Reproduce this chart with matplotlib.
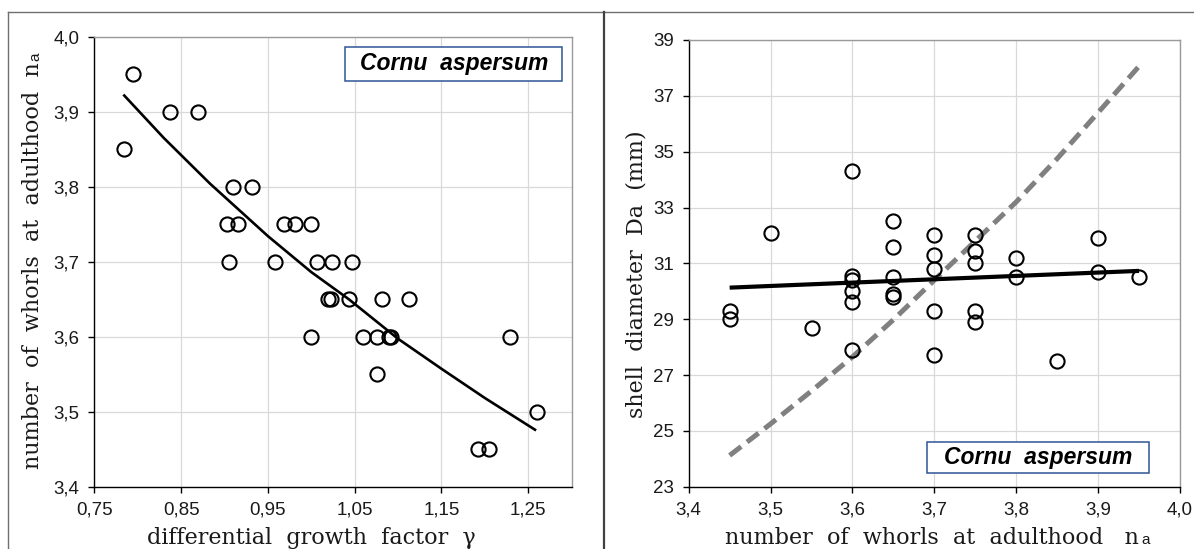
import matplotlib
matplotlib.use("Agg")
import matplotlib.pyplot as plt
from matplotlib.patches import Rectangle
from matplotlib.lines import Line2D
from matplotlib.ticker import FuncFormatter

# ---------------- data ----------------
# left panel: differential growth factor vs number of whorls
gamma = [0.7842, 0.7949, 0.8372, 0.8698, 0.910, 0.9313,
         0.9025, 0.9152, 0.9686, 0.9812, 0.9993,
         0.9055, 0.9578, 1.0069, 1.0235, 1.0465,
         1.0196, 1.0227, 1.0434, 1.0811, 1.1122,
         0.9993, 1.0599, 1.0753, 1.0895, 1.0918, 1.2289,
         1.076, 1.2604, 1.1924, 1.2044]
whorls_left = [3.85, 3.95, 3.90, 3.90, 3.80, 3.80,
               3.75, 3.75, 3.75, 3.75, 3.75,
               3.70, 3.70, 3.70, 3.70, 3.70,
               3.65, 3.65, 3.65, 3.65, 3.65,
               3.60, 3.60, 3.60, 3.60, 3.60, 3.60,
               3.55, 3.50, 3.45, 3.45]
# power trend line
trend_left_x = [0.7835, 0.83, 0.8833, 0.95, 1.0, 1.043, 1.10, 1.15, 1.20, 1.259]
trend_left_y = [3.9228, 3.865, 3.804, 3.734, 3.686, 3.650, 3.597, 3.557, 3.518, 3.4748]

# right panel: number of whorls vs shell diameter
whorls_right = [3.45, 3.45, 3.50, 3.55,
                3.60, 3.60, 3.60, 3.60, 3.60, 3.60,
                3.65, 3.65, 3.65, 3.65, 3.65,
                3.70, 3.70, 3.70, 3.70, 3.70,
                3.75, 3.75, 3.75, 3.75, 3.75,
                3.80, 3.80, 3.85, 3.90, 3.90, 3.95]
diameter = [29.3, 29.0, 32.1, 28.7,
            34.3, 30.56, 30.4, 30.0, 29.6, 27.9,
            32.5, 31.6, 30.5, 29.9, 29.8,
            32.0, 31.3, 30.8, 29.3, 27.7,
            32.0, 31.45, 31.0, 29.3, 28.9,
            31.2, 30.5, 27.5, 31.9, 30.7, 30.5]
trend_right_x = [3.45, 3.95]
trend_right_y = [30.13, 30.73]
model_x = [3.45, 3.50, 3.55, 3.60, 3.65, 3.70, 3.75, 3.80, 3.85, 3.90, 3.95]
model_y = [24.12, 25.25, 26.43, 27.65, 28.98, 30.40, 31.80, 33.2, 34.75, 36.4, 38.06]

left_xticks = [0.75, 0.85, 0.95, 1.05, 1.15, 1.25]
left_yticks = [3.4, 3.5, 3.6, 3.7, 3.8, 3.9, 4.0]
right_xticks = [3.4, 3.5, 3.6, 3.7, 3.8, 3.9, 4.0]
right_yticks = [23, 25, 27, 29, 31, 33, 35, 37, 39]
legend_text = "Cornu  aspersum"

# ---------------- layout ----------------
W, H = 1194, 549
fig = plt.figure(figsize=(W / 100, H / 100), dpi=100)


def fx(x):
    return x / W


def fy(y):
    return 1 - y / H


SANS = "Liberation Sans"
SERIF = "DejaVu Serif"
TICK_FS = 13.5
LAB_FS = 16
SUB_FS = 11

axL = fig.add_axes([fx(94.3), fy(486.5), (571.7 - 94.3) / W, (486.5 - 36.7) / H])
axR = fig.add_axes([fx(688.7), fy(486.7), (1180 - 688.7) / W, (486.7 - 40) / H])

comma1 = FuncFormatter(lambda v, p: ("%.1f" % v).replace(".", ","))
comma2 = FuncFormatter(lambda v, p: ("%.2f" % v).replace(".", ","))

for ax in (axL, axR):
    ax.set_facecolor("white")
    ax.spines["left"].set_color("black")
    ax.spines["bottom"].set_color("black")
    ax.spines["top"].set_color("#9a9a9a")
    ax.spines["right"].set_color("#9a9a9a")
    for s in ax.spines.values():
        s.set_linewidth(1.0)
    ax.grid(True, color="#d9d9d9", linewidth=0.9, zorder=0)
    ax.set_axisbelow(True)
    ax.tick_params(direction="out", length=4.5, width=1.0, color="black",
                   labelsize=TICK_FS, labelcolor="#1a1a1a", pad=6)

# left panel
axL.plot(trend_left_x, trend_left_y, color="black", lw=1.9, zorder=3,
         solid_capstyle="butt", solid_joinstyle="round")
axL.plot(gamma, whorls_left, linestyle="none", marker="o", markersize=10.2,
         markerfacecolor="none", markeredgecolor="black", markeredgewidth=1.5,
         zorder=4)
axL.set_xlim(0.75, 1.30)
axL.set_ylim(3.4, 4.0)
axL.set_xticks(left_xticks)
axL.set_yticks(left_yticks)
axL.xaxis.set_major_formatter(comma2)
axL.yaxis.set_major_formatter(comma1)

# right panel
axR.plot(model_x, model_y, color="#808080", lw=3.6, linestyle=(0, (2.9, 1.5)),
         dash_capstyle="butt", zorder=3)
axR.plot(trend_right_x, trend_right_y, color="black", lw=3.0, zorder=3,
         solid_capstyle="butt")
axR.plot(whorls_right, diameter, linestyle="none", marker="o", markersize=10.2,
         markerfacecolor="none", markeredgecolor="black", markeredgewidth=1.5,
         zorder=4)
axR.set_xlim(3.4, 4.0)
axR.set_ylim(23, 39)
axR.set_xticks(right_xticks)
axR.set_yticks(right_yticks)
axR.xaxis.set_major_formatter(comma1)
axR.yaxis.set_major_formatter(FuncFormatter(lambda v, p: "%d" % v))

for ax in (axL, axR):
    for lab in ax.get_xticklabels() + ax.get_yticklabels():
        lab.set_fontfamily(SANS)


# legend-like boxes
def legend_box(x0, y0, x1, y1):
    r = Rectangle((fx(x0), fy(y1)), (x1 - x0) / W, (y1 - y0) / H,
                  transform=fig.transFigure, facecolor="white",
                  edgecolor="#2f5597", linewidth=1.1, zorder=10)
    fig.add_artist(r)
    fig.text(fx((x0 + x1) / 2), fy((y0 + y1) / 2), legend_text,
             ha="center", va="center", fontsize=16.5, family=SANS,
             fontweight="bold", fontstyle="italic", color="black", zorder=11)


legend_box(345.3, 47.3, 562.1, 80.6)
legend_box(926.5, 442.0, 1149.3, 472.8)

# outer frame lines
frame_col = "#6f6f6f"
fig.add_artist(Line2D([fx(8), fx(W)], [fy(12.3), fy(12.3)],
                      transform=fig.transFigure, color=frame_col, lw=1.0))
fig.add_artist(Line2D([fx(8), fx(8)], [fy(12.3), fy(H)],
                      transform=fig.transFigure, color=frame_col, lw=1.0))
fig.add_artist(Line2D([fx(603.8), fx(603.8)], [fy(12.3), fy(H)],
                      transform=fig.transFigure, color="#404040", lw=1.6))

# axis labels
fig.canvas.draw()
renderer = fig.canvas.get_renderer()


def label(xc, yb, main, sub=None, rot=0):
    t = fig.text(fx(xc), fy(yb), main, rotation=rot, rotation_mode="anchor",
                 ha="center", va="baseline", fontsize=LAB_FS, family=SERIF,
                 color="#1a1a1a")
    if sub:
        bb = t.get_window_extent(renderer)
        if rot == 0:
            fig.text(bb.x1 / W + 2 / W, fy(yb), sub, ha="left", va="baseline",
                     fontsize=SUB_FS, family=SANS, color="#1a1a1a")
        else:
            fig.text(fx(xc), bb.y1 / H + 2 / H, sub, rotation=90,
                     rotation_mode="anchor", ha="left", va="baseline",
                     fontsize=SUB_FS, family=SANS, color="#1a1a1a")


label(311.5, 544, "differential  growth  factor  \u03b3")
label(39, 266, "number  of  whorls  at  adulthood  n", "a", rot=90)
label(932, 544, "number  of  whorls  at  adulthood   n", "a")
label(643, 274, "shell  diameter  Da  (mm)", rot=90)

fig.savefig("out.png", dpi=100, facecolor="white")
